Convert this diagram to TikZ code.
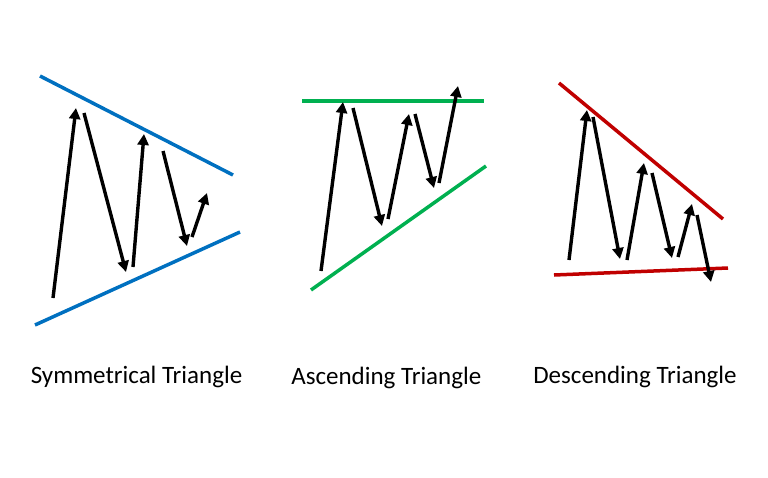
\documentclass[tikz,border=0pt]{standalone}
\usepackage{fontspec}
\setmainfont{Carlito}
\usetikzlibrary{arrows.meta}
\definecolor{trendblue}{RGB}{0,112,192}
\definecolor{trendgreen}{RGB}{0,176,80}
\definecolor{trendred}{RGB}{192,0,0}
\begin{document}
\begin{tikzpicture}[x = 1pt, y = -1pt,
  trend/.style = {line width = 3.5pt},
  move/.style = {line width = 3.4pt, -{Triangle[length = 11pt, width = 11pt]}},
  title/.style = {font = \fontsize{25}{30}\selectfont, anchor = base}]
\useasboundingbox (0,0) rectangle (768,477);

% symmetrical
\draw [trend, trendblue] (40,76) -- (233,175);
\draw [trend, trendblue] (35,325) -- (240,232);
\draw [move] (53,298) -- (76,108);
\draw [move] (84,113) -- (126,272);
\draw [move] (133,267) -- (144,134);
\draw [move] (163,151) -- (187,246);
\draw [move] (192,237) -- (207,193);
\node [title] (sym) at (136.5,383) {Symmetrical Triangle};

% ascending
\draw [trend, trendgreen] (302,101) -- (484,101);
\draw [trend, trendgreen] (311,290) -- (486,166);
\draw [move] (321,271) -- (343,102);
\draw [move] (353,108) -- (382,226);
\draw [move] (388,219) -- (409,114);
\draw [move] (415,114) -- (434,188);
\draw [move] (439,183) -- (458,86);
\node [title] (asc) at (386.3,384) {Ascending Triangle};

% descending
\draw [trend, trendred] (559,83) -- (723,219);
\draw [trend, trendred] (554,275) -- (728,268);
\draw [move] (569,260) -- (587,110);
\draw [move] (593,117) -- (620,259);
\draw [move] (627,260) -- (644,163);
\draw [move] (652,173) -- (672,258);
\draw [move] (678,257) -- (692,204);
\draw [move] (697,215) -- (711,282);
\node [title] (desc) at (635,383) {Descending Triangle};
\end{tikzpicture}
\end{document}
